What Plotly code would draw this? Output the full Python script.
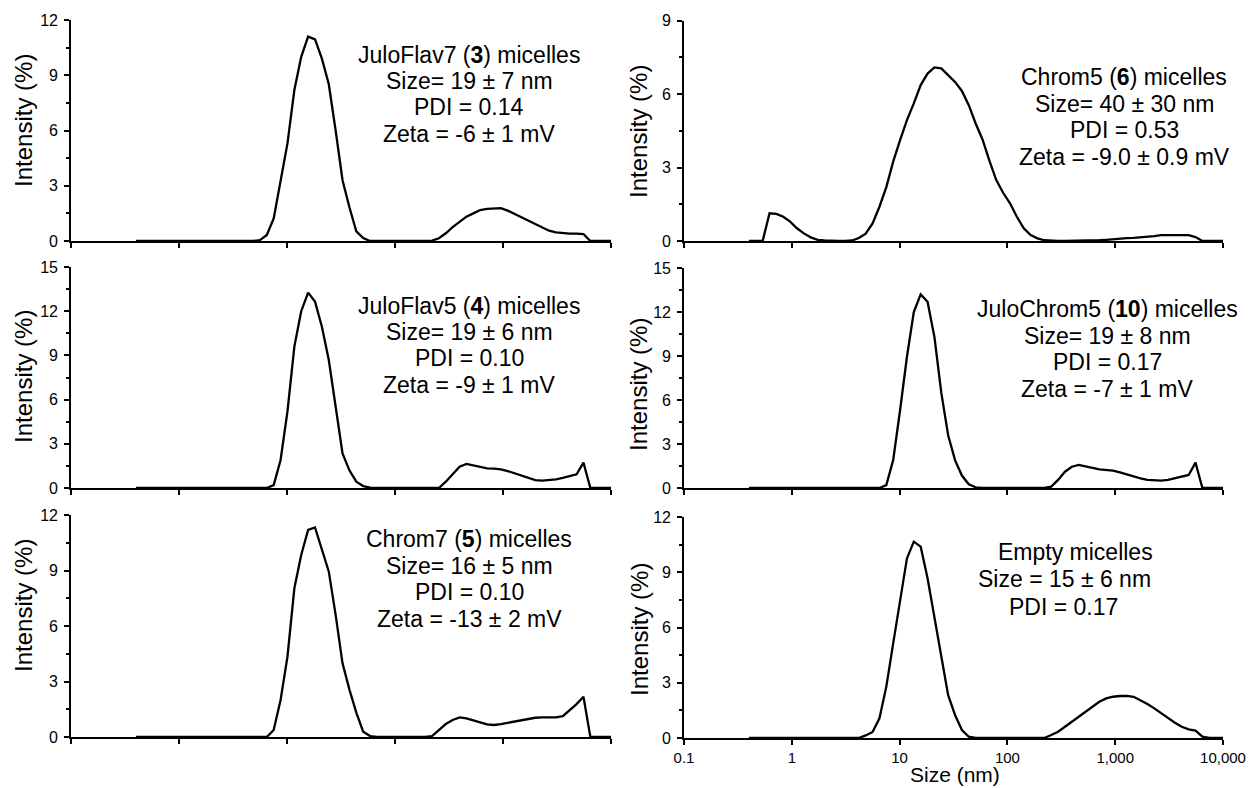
import plotly.graph_objects as go

W, H = 1260, 788

# ---------------- data ----------------
# DLS size bins (nm)
sizes_nm = [0.4, 0.4632, 0.5365, 0.6213, 0.7195, 0.8332, 0.9649, 1.117, 1.294, 1.499,
            1.736, 2.01, 2.328, 2.696, 3.122, 3.615, 4.187, 4.849, 5.615, 6.503,
            7.531, 8.721, 10.1, 11.7, 13.54, 15.69, 18.17, 21.04, 24.36, 28.21,
            32.67, 37.84, 43.82, 50.75, 58.77, 68.06, 78.82, 91.28, 105.7, 122.4,
            141.8, 164.2, 190.1, 220.2, 255.0, 295.3, 342.0, 396.1, 458.7, 531.2,
            615.1, 712.4, 825.0, 955.4, 1106, 1281, 1484, 1718, 1990, 2305,
            2669, 3091, 3580, 4145, 4801, 5560, 6439, 7456, 8635, 10000]

juloflav7 = [0, 0, 0, 0, 0, 0, 0, 0, 0, 0,
             0, 0, 0, 0, 0, 0, 0, 0, 0.05, 0.33,
             1.23, 3.3, 5.3, 8.2, 10.0, 11.1, 10.95, 9.9, 8.52, 6.0,
             3.3, 1.83, 0.52, 0.16, 0, 0, 0, 0, 0, 0,
             0, 0, 0, 0.02, 0.15, 0.42, 0.75, 1.05, 1.32, 1.5,
             1.68, 1.74, 1.78, 1.78, 1.65, 1.47, 1.29, 1.09, 0.91, 0.72,
             0.56, 0.47, 0.42, 0.4, 0.4, 0.38, 0, 0, 0, 0]

juloflav5 = [0, 0, 0, 0, 0, 0, 0, 0, 0, 0,
             0, 0, 0, 0, 0, 0, 0, 0, 0, 0,
             0.2, 1.9, 5.2, 9.6, 12.0, 13.26, 12.65, 10.95, 8.7, 5.5,
             2.35, 1.2, 0.43, 0.13, 0.03, 0, 0, 0, 0, 0,
             0, 0, 0, 0, 0, 0.43, 0.93, 1.45, 1.63, 1.52,
             1.4, 1.33, 1.31, 1.27, 1.15, 1.0, 0.84, 0.66, 0.54, 0.5,
             0.52, 0.59, 0.68, 0.79, 0.93, 1.72, 0, 0, 0, 0]

chrom7 = [0, 0, 0, 0, 0, 0, 0, 0, 0, 0,
          0, 0, 0, 0, 0, 0, 0, 0, 0, 0,
          0.38, 2.0, 4.34, 8.04, 9.84, 11.19, 11.33, 10.2, 8.95, 6.6,
          3.98, 2.56, 1.32, 0.29, 0.05, 0, 0, 0, 0, 0,
          0, 0, 0, 0.05, 0.38, 0.7, 0.92, 1.06, 1.01, 0.92,
          0.79, 0.68, 0.65, 0.7, 0.77, 0.83, 0.92, 0.99, 1.04, 1.06,
          1.06, 1.06, 1.13, 1.46, 1.78, 2.18, 0, 0, 0, 0]

chrom5 = [0, 0, 0, 1.13, 1.11, 0.99, 0.79, 0.52, 0.31, 0.15,
          0.05, 0.02, 0, 0, 0, 0.02, 0.12, 0.3, 0.72, 1.4,
          2.2, 3.24, 4.12, 4.94, 5.62, 6.37, 6.84, 7.09, 7.05, 6.78,
          6.5, 6.13, 5.55, 4.8, 4.15, 3.28, 2.49, 1.97, 1.54, 0.99,
          0.52, 0.24, 0.11, 0.03, 0, 0, 0, 0, 0, 0,
          0, 0.03, 0.05, 0.08, 0.11, 0.12, 0.13, 0.15, 0.16, 0.2,
          0.24, 0.24, 0.24, 0.24, 0.24, 0.16, 0, 0, 0, 0]

julochrom5 = [0, 0, 0, 0, 0, 0, 0, 0, 0, 0,
              0, 0, 0, 0, 0, 0, 0, 0, 0, 0,
              0.2, 1.9, 5.3, 8.95, 12.0, 13.2, 12.7, 10.3, 6.5, 3.6,
              1.9, 0.85, 0.25, 0.05, 0, 0, 0, 0, 0, 0,
              0, 0, 0, 0, 0.09, 0.55, 1.11, 1.45, 1.57, 1.5,
              1.38, 1.27, 1.23, 1.18, 1.07, 0.93, 0.77, 0.66, 0.55, 0.5,
              0.5, 0.55, 0.66, 0.73, 0.89, 1.73, 0, 0, 0, 0]

empty = [0, 0, 0, 0, 0, 0, 0, 0, 0, 0,
         0, 0, 0, 0, 0, 0, 0, 0.14, 0.33, 1.07,
         2.79, 5.14, 7.49, 9.75, 10.66, 10.39, 8.67, 6.59, 4.41, 2.33,
         1.25, 0.43, 0.07, 0, 0, 0, 0, 0, 0, 0,
         0, 0, 0, 0, 0.16, 0.34, 0.61, 0.88, 1.16, 1.43,
         1.74, 1.97, 2.15, 2.24, 2.28, 2.29, 2.24, 2.06, 1.85, 1.61,
         1.34, 1.07, 0.83, 0.61, 0.47, 0.4, 0.07, 0, 0, 0]

series = [juloflav7, chrom5, juloflav5, julochrom5, chrom7, empty]
y_max = [12, 9, 15, 15, 12, 12]

x_tick_vals = [0.1, 1, 10, 100, 1000, 10000]
x_tick_text = ["0.1", "1", "10", "100", "1,000", "10,000"]

label_lines = [
    ["JuloFlav7 (<b>3</b>) micelles", "Size= 19 ± 7 nm", "PDI = 0.14", "Zeta = -6 ± 1 mV"],
    ["Chrom5 (<b>6</b>) micelles", "Size= 40 ± 30 nm", "PDI = 0.53", "Zeta = -9.0 ± 0.9 mV"],
    ["JuloFlav5 (<b>4</b>) micelles", "Size= 19 ± 6 nm", "PDI = 0.10", "Zeta = -9 ± 1 mV"],
    ["JuloChrom5 (<b>10</b>) micelles", "Size= 19 ± 8 nm", "PDI = 0.17", "Zeta = -7 ± 1 mV"],
    ["Chrom7 (<b>5</b>) micelles", "Size= 16 ± 5 nm", "PDI = 0.10", "Zeta = -13 ± 2 mV"],
    ["Empty micelles", "Size = 15 ± 6 nm", "PDI = 0.17"],
]
y_title = "Intensity (%)"
x_title = "Size (nm)"

for s in series:
    assert len(s) == len(sizes_nm)

# ---------------- layout (pixel geometry) ----------------
FONT = "Arial, 'Liberation Sans', sans-serif"
col_px = [(71, 611), (684, 1223)]
row_px = [[(20, 241), (20.7, 241)], [(267, 488), (268, 488)], [(515, 737), (517, 738)]]

# label line centers (pixels)
label_pos = [
    [(469, 55), (469, 81), (469, 107), (469, 134)],
    [(1124, 77), (1124, 104), (1124, 130), (1124, 157)],
    [(469, 306), (469, 332), (469, 358), (469, 385)],
    [(1107, 309), (1107, 336), (1107, 362), (1107, 389)],
    [(469, 539), (469, 566), (469, 592), (469, 619)],
    [(1075, 552), (1064, 579), (1063, 607)],
]
ytitle_pos = [(23, 121), (639, 132), (23, 377), (639, 385), (23, 606), (639, 630)]
xtitle_pos = (955, 774.5)


def px_x(x):
    return x / W


def px_y(y):
    return 1 - y / H


fig = go.Figure()
layout = dict(
    template="none",
    width=W, height=H, autosize=False,
    margin=dict(l=0, r=0, t=0, b=0, pad=0, autoexpand=False),
    paper_bgcolor="white", plot_bgcolor="white",
    showlegend=False,
    font=dict(family=FONT, color="black"),
)

annotations = []
for i in range(6):
    r, c = divmod(i, 2)
    n = i + 1
    xs = "" if n == 1 else str(n)
    fig.add_trace(go.Scatter(
        x=sizes_nm, y=series[i], mode="lines",
        line=dict(color="black", width=2.3),
        xaxis="x" + xs, yaxis="y" + xs, hoverinfo="skip",
    ))
    x0, x1 = col_px[c]
    ytop, ybot = row_px[r][c]
    layout["xaxis" + xs] = dict(
        domain=[px_x(x0), px_x(x1)], type="log", range=[-1, 4], automargin=False,
        anchor="y" + xs, showline=True, linecolor="black", linewidth=1.6, mirror=False,
        ticks="outside", ticklen=5, tickwidth=1.5, tickcolor="black",
        tickvals=x_tick_vals, ticktext=x_tick_text,
        showticklabels=(n == 6), tickfont=dict(size=15, family=FONT, color="black"),
        showgrid=False, zeroline=False, fixedrange=True,
    )
    layout["yaxis" + xs] = dict(
        domain=[px_y(ybot), px_y(ytop)], range=[0, y_max[i]], automargin=False,
        anchor="x" + xs, showline=True, linecolor="black", linewidth=1.6, mirror=False,
        ticks="outside", ticklen=5, tickwidth=1.5, tickcolor="black",
        tick0=0, dtick=3, ticklabelstandoff=3,
        minor=dict(ticks="outside", ticklen=3, tickwidth=1.5, tickcolor="black",
                   tick0=0, dtick=1.5, showgrid=False),
        tickfont=dict(size=16, family=FONT, color="black"),
        showgrid=False, zeroline=False, fixedrange=True,
    )
    for txt, (cx, cy) in zip(label_lines[i], label_pos[i]):
        annotations.append(dict(
            text=txt, x=px_x(cx), y=px_y(cy), xref="paper", yref="paper",
            xanchor="center", yanchor="middle", showarrow=False,
            font=dict(size=23, family=FONT, color="black"),
        ))
    tx, ty = ytitle_pos[i]
    annotations.append(dict(
        text=y_title, x=px_x(tx), y=px_y(ty), xref="paper", yref="paper",
        xanchor="center", yanchor="middle", showarrow=False, textangle=-90,
        font=dict(size=24, family=FONT, color="black"),
    ))

annotations.append(dict(
    text=x_title, x=px_x(xtitle_pos[0]), y=px_y(xtitle_pos[1]), xref="paper", yref="paper",
    xanchor="center", yanchor="middle", showarrow=False, borderpad=0,
    font=dict(size=21, family=FONT, color="black"),
))
layout["annotations"] = annotations
fig.update_layout(**layout)

fig.write_html("out.html", config={"displayModeBar": False},
               post_script="document.body.style.margin='0';document.body.style.overflow='hidden';")
